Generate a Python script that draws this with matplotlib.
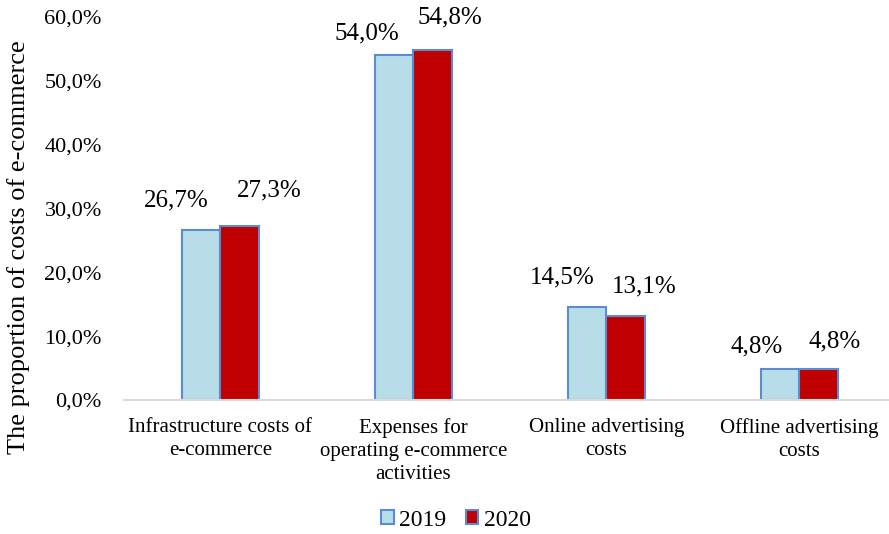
import matplotlib.pyplot as plt
import numpy as np

plt.rcParams["font.family"] = ["Liberation Serif", "DejaVu Serif"]

categories = [
    "Infrastructure costs of\ne-commerce",
    "Expenses for\noperating e-commerce\nactivities",
    "Online advertising\ncosts",
    "Offline advertising\ncosts",
]
years = ["2019", "2020"]
vals_2019 = [26.7, 54.0, 14.5, 4.8]
vals_2020 = [27.3, 54.8, 13.1, 4.8]

# manual label nudges (pixels) as placed in the original
off_2019 = [(-25, 29), (-27, 22), (-25, 30), (-23, 23)]
off_2020 = [(30, 35), (17, 33), (19, 30), (16, 28)]

fig = plt.figure(figsize=(8.89, 5.34), dpi=100)
ax = fig.add_axes([124 / 889, 134 / 534, 1 - 124 / 889, 383 / 534])

x = np.arange(len(categories))
w = 0.2
edge = "#5B8BD0"
b1 = ax.bar(x - w / 2, vals_2019, w, color="#B7DEE8", edgecolor=edge, linewidth=1.5, label=years[0])
b2 = ax.bar(x + w / 2, vals_2020, w, color="#C00000", edgecolor=edge, linewidth=1.5, label=years[1])

def fmt(v):
    return f"{v:.1f}%".replace(".", ",")

for bars, vals, offs in [(b1, vals_2019, off_2019), (b2, vals_2020, off_2020)]:
    for bar, v, (dx, dy) in zip(bars, vals, offs):
        ax.annotate(fmt(v), (bar.get_x() + bar.get_width() / 2, v),
                    xytext=(dx, dy), textcoords="offset pixels",
                    ha="center", va="center", fontsize=18)

ax.set_xlim(-0.5, 3.466)
ax.set_ylim(0, 60)
ax.set_yticks(np.arange(0, 61, 10))
ax.set_yticklabels([fmt(t) for t in np.arange(0, 61, 10)], fontsize=16)
ax.set_xticks(x)
ax.set_xticklabels(categories, fontsize=15, linespacing=1.3)
ax.tick_params(axis="both", length=0)
ax.tick_params(axis="y", pad=16)
ax.tick_params(axis="x", pad=13)

for s in ["top", "right", "left"]:
    ax.spines[s].set_visible(False)
ax.spines["bottom"].set_color("#D9D9D9")
ax.spines["bottom"].set_linewidth(1.5)

fig.text(19 / 889, 1 - 247 / 534, "The proportion of costs of e-commerce",
         rotation=90, ha="center", va="center", fontsize=19)

fig.legend(handles=[b1, b2], loc="center", bbox_to_anchor=(456 / 889, 1 - 520 / 534),
           ncol=2, frameon=False, fontsize=17, handlelength=0.55, handleheight=0.55,
           handletextpad=0.25, columnspacing=0.8)

fig.savefig("out.png", dpi=100)
